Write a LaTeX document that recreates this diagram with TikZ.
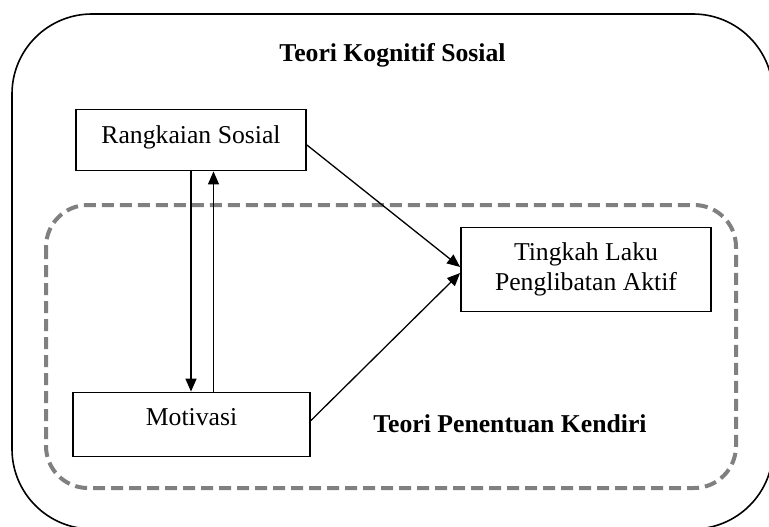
\documentclass[tikz,border=0pt]{standalone}
\usepackage{fontspec}
\setmainfont{Liberation Serif}
\usetikzlibrary{arrows.meta,calc}
\definecolor{dgray}{RGB}{128,128,128}
\begin{document}
\begin{tikzpicture}[x=1pt,y=-1pt,
  box/.style={draw,line width=1.8pt,inner sep=0pt,font=\fontsize{25.7}{30}\selectfont,align=center},
  conn/.style={line width=1.3pt,-{Triangle[length=13pt,width=11pt]}},
  titletext/.style={font=\fontsize{25.7}{30}\selectfont\bfseries,anchor=base,inner sep=0pt}]
\useasboundingbox (0,0) rectangle (769,527);
\clip (0,0) rectangle (769,527);
\draw[line width=1.6pt,rounded corners=80pt] (12,14) rectangle (773,529);
\draw[line width=4pt,dgray,dash pattern=on 12pt off 6pt,rounded corners=42pt] (46,205) rectangle (736,488);
\node[titletext] (t1) at (392.5,62) {Teori Kognitif Sosial};
\node[titletext] (t2) at (510,432) {Teori Penentuan Kendiri};
\node[box,minimum width=230pt,minimum height=61pt,text height=17.6pt,text depth=11.6pt] (rs) at (191,140) {Rangkaian Sosial};
\node[box,minimum width=237pt,minimum height=64pt,text height=17pt,text depth=16pt] (mo) at (191.5,424.5) {Motivasi};
\node[box,minimum width=250pt,minimum height=84pt] (tl) at (586,269.5) {Tingkah Laku\\Penglibatan Aktif};
\draw[conn] (rs.south) -- (rs.south |- mo.north);
\draw[conn] ([xshift=22pt]mo.north) -- ([xshift=22pt]mo.north |- rs.south);
\draw[conn] ([yshift=-5pt]rs.east) -- ([yshift=2.5pt]tl.west);
\draw[conn] ([yshift=4pt]mo.east) -- ([yshift=-3.5pt]tl.west);
\end{tikzpicture}
\end{document}
